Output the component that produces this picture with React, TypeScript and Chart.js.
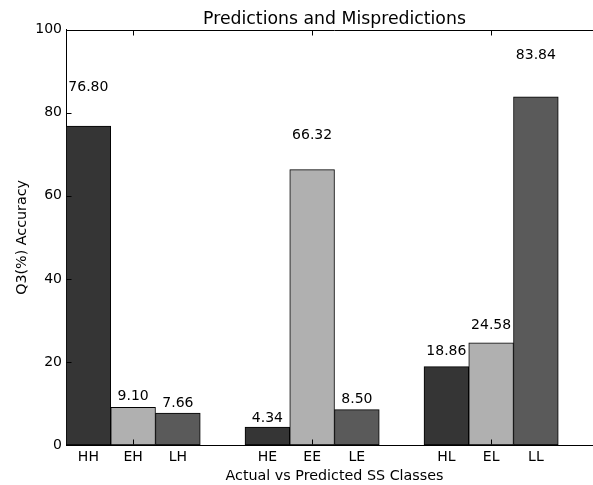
import { useEffect, useRef } from 'react';
import { Chart, registerables } from 'chart.js';

Chart.register(...registerables);

const categories = ['HH', 'EH', 'LH', 'HE', 'EE', 'LE', 'HL', 'EL', 'LL'];
const accuracy = [76.8, 9.1, 7.66, 4.34, 66.32, 8.5, 18.86, 24.58, 83.84];
const classColors: Record<string, string> = { H: '#353535', E: '#b0b0b0', L: '#5a5a5a' };
const yTickValues = [0, 20, 40, 60, 80, 100];
const chartTitle = 'Predictions and Mispredictions';
const xAxisTitle = 'Actual vs Predicted SS Classes';
const yAxisTitle = 'Q3(%) Accuracy';

const FONT = '"DejaVu Sans", sans-serif';
// slot index: three bars per group, one empty slot between groups
const slot = (i: number) => Math.floor(i / 3) * 4 + (i % 3);
const positions = categories.map((_, i) => slot(i));
// the middle bar of each group carries the major tick marks
const majorTickPositions = positions.filter((_, i) => i % 3 === 1);

const decorPlugin = {
  id: 'decor',
  afterDatasetsDraw(chart: any) {
    const { ctx, chartArea, scales } = chart;
    const meta = chart.getDatasetMeta(0);
    ctx.save();
    // value labels
    ctx.fillStyle = '#000';
    ctx.font = `14px ${FONT}`;
    ctx.textAlign = 'center';
    ctx.textBaseline = 'bottom';
    meta.data.forEach((bar: any, i: number) => {
      const v = accuracy[i];
      const y = scales.y.getPixelForValue(v * 1.1);
      ctx.fillText(v.toFixed(2), bar.x, y);
    });
    // top spine
    ctx.strokeStyle = '#000';
    ctx.lineWidth = 1;
    const top = Math.round(chartArea.top) + 0.5;
    const bottom = Math.round(chartArea.bottom) - 0.5;
    const left = Math.round(chartArea.left) + 0.5;
    ctx.beginPath();
    ctx.moveTo(chartArea.left, top);
    ctx.lineTo(chartArea.right, top);
    // y tick marks (inward)
    yTickValues.forEach((v) => {
      const y = Math.round(scales.y.getPixelForValue(v)) + 0.5;
      ctx.moveTo(left, y);
      ctx.lineTo(left + 5, y);
    });
    // x tick marks (inward, top and bottom)
    majorTickPositions.forEach((p) => {
      const x = Math.round(scales.x.getPixelForValue(p)) + 0.5;
      ctx.moveTo(x, bottom);
      ctx.lineTo(x, bottom - 5);
      ctx.moveTo(x, top);
      ctx.lineTo(x, top + 5);
    });
    ctx.stroke();
    ctx.restore();
  },
};

export default function App() {
  const ref = useRef<HTMLCanvasElement>(null);
  useEffect(() => {
    document.body.style.margin = '0';
    const canvas = ref.current!;
    Chart.defaults.font.family = FONT;
    Chart.defaults.color = '#000';
    const chart = new Chart(canvas, {
      type: 'bar',
      data: {
        datasets: [
          {
            data: categories.map((c, i) => ({ x: positions[i], y: accuracy[i] })) as any,
            backgroundColor: categories.map((c) => classColors[c[0]]),
            borderColor: '#000',
            borderWidth: 1,
            borderSkipped: false,
            barPercentage: 1,
            categoryPercentage: 1,
          },
        ],
      },
      options: {
        animation: false,
        responsive: false,
        devicePixelRatio: 1,
        layout: { padding: { left: 0, top: 0, bottom: 0, right: 7 } },
        plugins: {
          legend: { display: false },
          tooltip: { enabled: false },
          title: {
            display: true,
            fullSize: false,
            text: chartTitle,
            color: '#000',
            font: { size: 17.3, weight: 'normal', family: FONT },
            padding: { top: 9, bottom: 0 },
          },
        },
        scales: {
          x: {
            type: 'linear',
            offset: false,
            min: -0.5,
            max: 11.5,
            grid: { display: false, drawTicks: false },
            border: { display: true, color: '#000', width: 1 },
            afterBuildTicks: (s: any) => {
              s.ticks = positions.map((p) => ({ value: p }));
            },
            ticks: {
              autoSkip: false,
              maxRotation: 0,
              padding: 4,
              color: '#000',
              font: { size: 14, family: FONT },
              callback: (v: any) => {
                const i = positions.indexOf(Number(v));
                return i >= 0 ? categories[i] : '';
              },
            },
            title: {
              display: true,
              text: xAxisTitle,
              color: '#000',
              font: { size: 14.3, family: FONT },
              padding: { top: 0, bottom: 0 },
            },
            afterFit: (s: any) => {
              s.height = 40;
            },
          },
          y: {
            min: 0,
            max: 100,
            grid: { display: false, drawTicks: false },
            border: { display: true, color: '#000', width: 1 },
            afterBuildTicks: (s: any) => {
              s.ticks = yTickValues.map((v) => ({ value: v }));
            },
            ticks: {
              padding: 4,
              color: '#000',
              font: { size: 14, family: FONT },
            },
            title: {
              display: true,
              text: yAxisTitle,
              color: '#000',
              font: { size: 14.3, family: FONT },
              padding: { top: 14, bottom: 0 },
            },
            afterFit: (s: any) => {
              s.width = 66;
            },
          },
        },
      } as any,
      plugins: [decorPlugin],
    });
    return () => chart.destroy();
  }, []);
  return (
    <div style={{ position: 'absolute', left: 0, top: 0, width: 593, height: 485, overflow: 'hidden' }}>
      <canvas ref={ref} width={610} height={485} />
    </div>
  );
}
